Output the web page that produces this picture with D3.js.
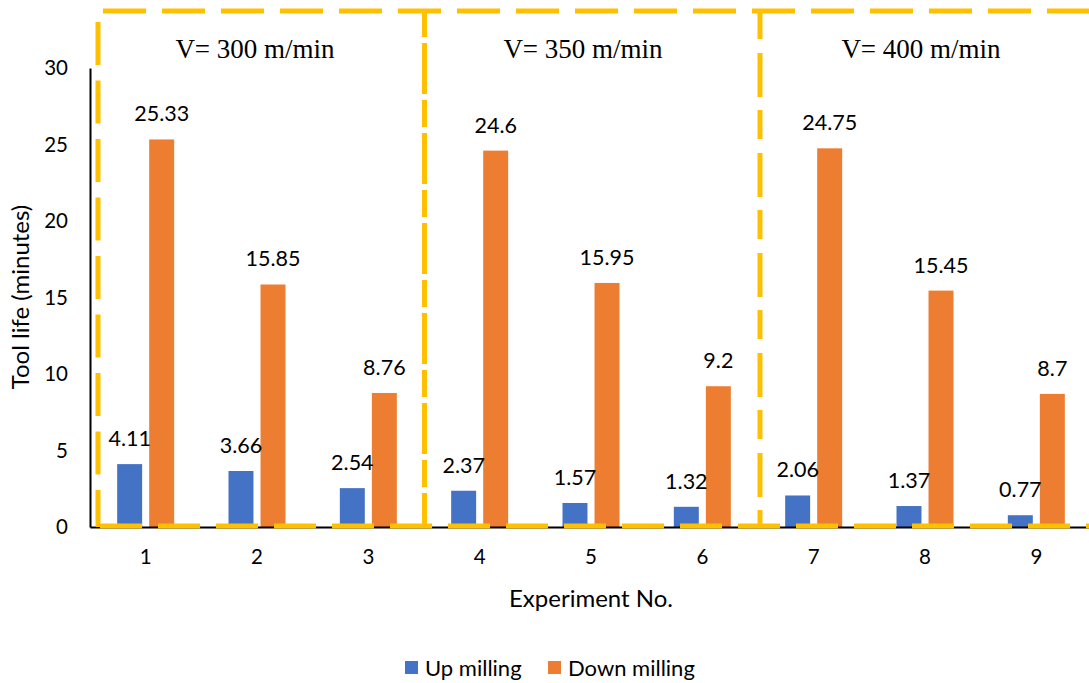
<!DOCTYPE html>
<html>
<head>
<meta charset="utf-8">
<script src="https://cdn.jsdelivr.net/npm/d3@7"></script>
<style>
  html, body { margin: 0; padding: 0; background: #fff; }
  svg { display: block; }
  .sans { font-family: Lato, "Open Sans", sans-serif; fill: #000; }
  .serif { font-family: "Liberation Serif", "Times New Roman", serif; fill: #000; }
</style>
</head>
<body>
<svg id="chart" width="1089" height="683"></svg>
<script>
// Tool life per experiment, up milling vs down milling
const experiments = ["1", "2", "3", "4", "5", "6", "7", "8", "9"];
const upMilling   = [4.11, 3.66, 2.54, 2.37, 1.57, 1.32, 2.06, 1.37, 0.77];
const downMilling = [25.33, 15.85, 8.76, 24.6, 15.95, 9.2, 24.75, 15.45, 8.7];
const seriesNames = ["Up milling", "Down milling"];
const seriesColors = ["#4472C4", "#ED7D31"];
const yTicks = [0, 5, 10, 15, 20, 25, 30];
// cutting speed groups (three experiments each)
const speedGroups = ["V= 300 m/min", "V= 350 m/min", "V= 400 m/min"];
const groupStarts = ["1", "4", "7"];

const svg = d3.select("#chart");
const plot = { left: 90, right: 1092, top: 68, bottom: 527 };

const x0 = d3.scaleBand().domain(experiments).range([plot.left, plot.right]).padding(0);
const x1 = d3.scaleBand().domain(seriesNames).range([-28.5, 28.5]).paddingInner(0.22);
const y = d3.scaleLinear().domain([0, 30]).range([plot.bottom, plot.top]);

const rows = experiments.map((e, i) => ({ exp: e, values: [upMilling[i], downMilling[i]] }));

// bars
const groups = svg.append("g").selectAll("g").data(rows).join("g")
  .attr("transform", d => `translate(${x0(d.exp) + x0.bandwidth() / 2},0)`);

groups.selectAll("rect")
  .data(d => d.values.map((v, k) => ({ name: seriesNames[k], v, k })))
  .join("rect")
  .attr("x", d => x1(d.name))
  .attr("width", x1.bandwidth())
  .attr("y", d => y(d.v))
  .attr("height", d => y(0) - y(d.v))
  .attr("fill", d => seriesColors[d.k]);

// value labels
groups.selectAll("text")
  .data(d => d.values.map((v, k) => ({ name: seriesNames[k], v, k })))
  .join("text")
  .attr("class", "sans")
  .attr("x", d => x1(d.name) + x1.bandwidth() / 2)
  .attr("y", d => y(d.v) - 18)
  .attr("text-anchor", "middle")
  .style("font-size", "21.5px")
  .text(d => d.v);

// axes
const yAxis = svg.append("g")
  .attr("transform", `translate(${plot.left},0)`)
  .call(d3.axisLeft(y).tickValues(yTicks).tickSize(0).tickPadding(22));
yAxis.select(".domain").attr("stroke", "#000").attr("stroke-width", 2);
yAxis.selectAll("text").attr("class", "sans").style("font-size", "20.5px").attr("fill", "#000");

const xAxis = svg.append("g")
  .attr("transform", `translate(0,${plot.bottom})`)
  .call(d3.axisBottom(x0).tickSize(0).tickPadding(22));
xAxis.select(".domain").attr("stroke", "#000").attr("stroke-width", 2);
xAxis.selectAll("text").attr("class", "sans").style("font-size", "20.5px").attr("fill", "#000");

// axis titles
svg.append("text").attr("class", "sans")
  .attr("transform", "translate(29,297) rotate(-90)")
  .attr("text-anchor", "middle")
  .style("font-size", "24px")
  .text("Tool life (minutes)");
svg.append("text").attr("class", "sans")
  .attr("x", 591).attr("y", 607)
  .attr("text-anchor", "middle")
  .style("font-size", "24px")
  .text("Experiment No.");

// dashed boxes around speed groups
const gold = "#FFC000";
const dash = (x1p, y1p, x2p, y2p, pattern, offset) =>
  svg.append("line")
    .attr("x1", x1p).attr("y1", y1p).attr("x2", x2p).attr("y2", y2p)
    .attr("stroke", gold).attr("stroke-width", 5)
    .attr("stroke-dasharray", pattern).attr("stroke-dashoffset", offset || 0);

const boxLeft = 98, boxTop = 11, boxBottom = 526;
const dividers = [x0(groupStarts[1]) + 0.5, x0(groupStarts[2]) + 2];
dash(103, boxTop, 1089, boxTop, "43 16");
dash(100, boxBottom, 1089, boxBottom, "42 16");
dash(boxLeft, 22, boxLeft, boxBottom + 1, "43 15.5");
dash(dividers[0], 10, dividers[0], boxBottom, "27 6 51 6", 0);
dash(dividers[1], 10, dividers[1], boxBottom, "29 14 44 13", 0);

// speed labels, centred in each box
const labelCenters = [255, 583, 921];
speedGroups.forEach((g, i) => {
  svg.append("text").attr("class", "serif")
    .attr("x", labelCenters[i])
    .attr("y", 58)
    .attr("text-anchor", "middle")
    .style("font-size", "27px")
    .text(g);
});

// legend
const legend = svg.append("g").attr("transform", "translate(405,668)");
const legendX = [0, 143];
seriesNames.forEach((n, i) => {
  legend.append("rect").attr("x", legendX[i]).attr("y", -7).attr("width", 13).attr("height", 13)
    .attr("fill", seriesColors[i]);
  legend.append("text").attr("class", "sans")
    .attr("x", legendX[i] + 20).attr("y", 8)
    .style("font-size", "22px")
    .text(n);
});
</script>
</body>
</html>
